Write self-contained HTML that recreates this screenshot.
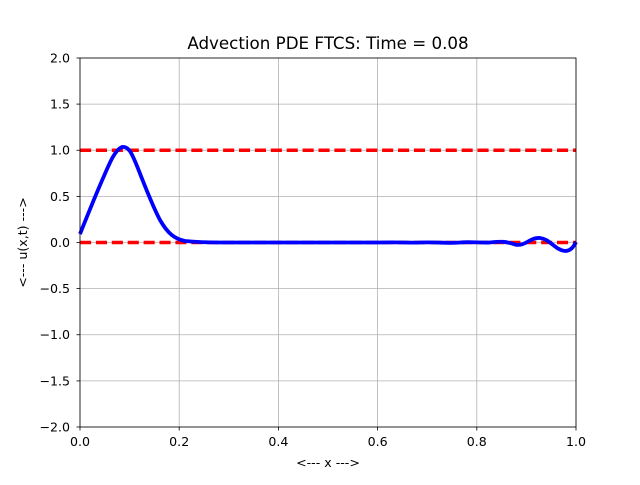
<!DOCTYPE html>
<html><head><style>body{margin:0;background:#fff}</style></head><body>
<svg width="640" height="480" xmlns="http://www.w3.org/2000/svg" font-family="DejaVu Sans, Liberation Sans, sans-serif" font-size="12.6">
<rect width="640" height="480" fill="#fff"/>
<g stroke="#b0b0b0" stroke-width="0.8">
<line x1="80" y1="58" x2="80" y2="427"/><line x1="179.2" y1="58" x2="179.2" y2="427"/><line x1="278.4" y1="58" x2="278.4" y2="427"/><line x1="377.6" y1="58" x2="377.6" y2="427"/><line x1="476.8" y1="58" x2="476.8" y2="427"/><line x1="576" y1="58" x2="576" y2="427"/>
<line x1="80" y1="58" x2="576" y2="58"/><line x1="80" y1="104.1" x2="576" y2="104.1"/><line x1="80" y1="150.25" x2="576" y2="150.25"/><line x1="80" y1="196.4" x2="576" y2="196.4"/><line x1="80" y1="242.5" x2="576" y2="242.5"/><line x1="80" y1="288.6" x2="576" y2="288.6"/><line x1="80" y1="334.75" x2="576" y2="334.75"/><line x1="80" y1="380.9" x2="576" y2="380.9"/><line x1="80" y1="427" x2="576" y2="427"/>
</g>
<g stroke="#f00" stroke-width="3.5" stroke-dasharray="11.1 4.8">
<line x1="80" y1="150.25" x2="576" y2="150.25"/><line x1="80" y1="242.5" x2="576" y2="242.5"/>
</g>
<path d="M80,234 C88,214 96,194 104,176 C110,162 115,150 122,147 C129,146 132,154 137,166 C145,186 152,205 160,220 C168,234 175,239 185,241 C195,242 205,242.5 220,242.5 L300,242.5 L380,242.5 C400,242 410,243 420,242.5 C440,242 450,243.5 460,242.5 C470,241.5 480,243 490,242.5 C500,241.5 505,241 515,244.5 C525,247 530,237 540,238 C550,239 555,250 565,251 C571,251 574,246 576,242" fill="none" stroke="#00f" stroke-width="3.8" stroke-linejoin="round"/>
<rect x="80" y="58" width="496" height="369" fill="none" stroke="#000" stroke-width="0.8"/>
<g stroke="#000" stroke-width="0.8">
<line x1="80" y1="427" x2="80" y2="430.5"/><line x1="179.2" y1="427" x2="179.2" y2="430.5"/><line x1="278.4" y1="427" x2="278.4" y2="430.5"/><line x1="377.6" y1="427" x2="377.6" y2="430.5"/><line x1="476.8" y1="427" x2="476.8" y2="430.5"/><line x1="576" y1="427" x2="576" y2="430.5"/>
<line x1="76.5" y1="58" x2="80" y2="58"/><line x1="76.5" y1="104.1" x2="80" y2="104.1"/><line x1="76.5" y1="150.25" x2="80" y2="150.25"/><line x1="76.5" y1="196.4" x2="80" y2="196.4"/><line x1="76.5" y1="242.5" x2="80" y2="242.5"/><line x1="76.5" y1="288.6" x2="80" y2="288.6"/><line x1="76.5" y1="334.75" x2="80" y2="334.75"/><line x1="76.5" y1="380.9" x2="80" y2="380.9"/><line x1="76.5" y1="427" x2="80" y2="427"/>
</g>
<g text-anchor="middle">
<text x="80" y="446">0.0</text><text x="179.2" y="446">0.2</text><text x="278.4" y="446">0.4</text><text x="377.6" y="446">0.6</text><text x="476.8" y="446">0.8</text><text x="576" y="446">1.0</text>
<text x="328" y="467">&lt;--- x ---&gt;</text>
<text x="328" y="49" font-size="16.7">Advection PDE FTCS: Time = 0.08</text>
</g>
<g text-anchor="end">
<text x="70" y="62.5">2.0</text><text x="70" y="108.6">1.5</text><text x="70" y="154.7">1.0</text><text x="70" y="200.9">0.5</text><text x="70" y="247">0.0</text><text x="70" y="293.1">−0.5</text><text x="70" y="339.2">−1.0</text><text x="70" y="385.4">−1.5</text><text x="70" y="431.5">−2.0</text>
</g>
<text transform="translate(27,242.5) rotate(-90)" text-anchor="middle">&lt;--- u(x,t) ---&gt;</text>
</svg>
</body></html>
